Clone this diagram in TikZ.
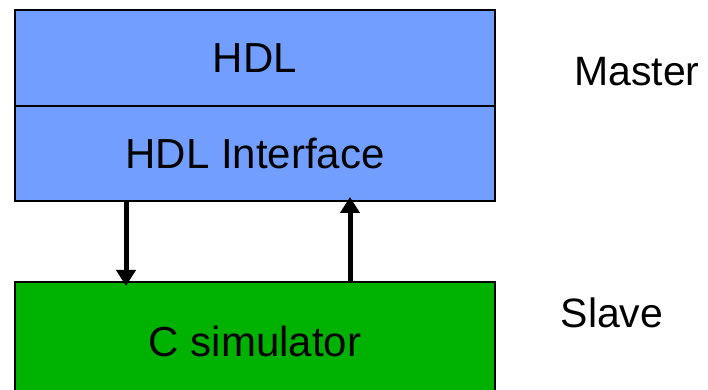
\documentclass[tikz,border=0pt]{standalone}
\usepackage{fontspec}
\setmainfont{Liberation Sans}
\usetikzlibrary{arrows.meta}
\definecolor{hdlblue}{RGB}{114,159,255}
\definecolor{simgreen}{RGB}{0,178,0}
\begin{document}
\begin{tikzpicture}[x=0.5pt,y=-0.5pt,
	layer/.style={shape=rectangle, draw=black, line width=1pt, minimum width=240pt, inner sep=0pt, font=\fontsize{21}{25}\selectfont},
	link/.style={line width=2.5pt, -{Triangle[length=8pt,width=9.5pt]}, shorten >=-2.5pt}]
	\useasboundingbox (0,0) rectangle (708,390);
	\node (hdl) at (255,58) [layer, fill=hdlblue, minimum height=48pt] {HDL};
	\node (hdlif) at (255,153.5) [layer, fill=hdlblue, minimum height=47.5pt] {HDL Interface};
	\node (sim) at (255,341) [layer, fill=simgreen, minimum height=59pt] {C simulator};
	\node (master) at (637,72) [font=\fontsize{20.5}{24}\selectfont] {Master};
	\node (slave) at (612,313) [font=\fontsize{20.5}{24}\selectfont] {Slave};
	\draw [link] ([xshift=56pt]hdlif.south west) -- ([xshift=56pt]sim.north west);
	\draw [link] ([xshift=168pt]sim.north west) -- ([xshift=168pt]hdlif.south west);
\end{tikzpicture}
\end{document}
